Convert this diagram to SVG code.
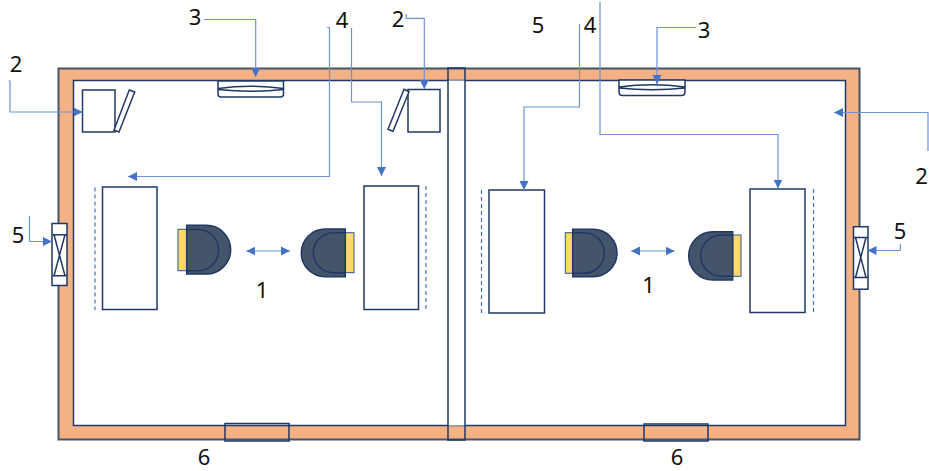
<svg xmlns="http://www.w3.org/2000/svg" width="929" height="471" viewBox="0 0 929 471">
<style>
.o{fill:none;stroke:#1F3864;stroke-width:1.5}
.w{fill:#fff;stroke:#1F3864;stroke-width:1.5}
.y{fill:#FFD966;stroke:#2F5597;stroke-width:1}
.d{fill:#44546A;stroke:#1F3864;stroke-width:1.5}
.h{fill:none;stroke:#4472C4;stroke-width:1.2;stroke-dasharray:4 3}
.c{fill:none;stroke:#6F92D4;stroke-width:1.2}
text{font-family:"Noto Sans","Open Sans","Liberation Sans",sans-serif;font-size:22px;fill:#111;text-anchor:middle}
</style>
<defs>
<marker id="a" markerUnits="userSpaceOnUse" markerWidth="10" markerHeight="10" refX="9" refY="5" orient="auto-start-reverse"><path d="M0 0.500L9 5L0 9.500Z" fill="#4472C4"/></marker>
</defs>
<g id="building">
<rect x="58.500" y="68.500" width="801" height="371" fill="#F4B183" stroke="#44546A" stroke-width="2"/>
<rect x="73.500" y="80.500" width="772" height="345" fill="#fff" stroke="#1F3864" stroke-width="1.500"/>
</g>
<g id="partition"><rect x="448" y="80.500" width="17" height="345" fill="#fff"/><rect x="448" y="68" width="17" height="372" class="o"/></g>
<g id="door-left"><rect x="225" y="423.500" width="64" height="17.500" class="o"/></g>
<g id="door-right"><rect x="644" y="424" width="64" height="17" class="o"/></g>
<g id="printer-left"><rect x="82.500" y="90" width="32.500" height="42" class="w"/><path d="M129.300 90L134.700 92L119 132L114 130Z" class="w"/></g>
<g id="printer-right"><rect x="408" y="89.500" width="32" height="42.500" class="w"/><path d="M404 89.300L409 91.700L393 131.300L388 129.300Z" class="w"/></g>
<g id="ac-left"><path d="M218 81H283.500V94Q283.500 97 280.500 97H221Q218 97 218 94Z" class="w"/><path d="M218 88.500Q250.500 84 283.500 88.500M218 89.500Q250.500 93 283.500 89.500" class="o"/></g>
<g id="ac-right"><path d="M619 80H685V92Q685 95.500 681.500 95.500H622.500Q619 95.500 619 92Z" class="w"/><path d="M619 87Q652 82.500 685 87M619 88Q652 91.500 685 88" class="o"/></g>
<g id="window-left"><rect x="52" y="223.500" width="15" height="62" class="w"/><path d="M52 234.700H67M52 275.700H67M54 234.700L65 275.700M65 234.700L54 275.700" class="o"/></g>
<g id="window-right"><rect x="853.500" y="226.700" width="14.500" height="62.500" class="w"/><path d="M853.500 237.500H868M853.500 277.500H868M855.500 237.500L866 277.500M866 237.500L855.500 277.500" class="o"/></g>
<g id="table-1"><rect x="102.500" y="187" width="54.500" height="122.500" class="w"/><path d="M95 187.500V310" class="h"/></g>
<g id="table-2"><rect x="364" y="186" width="54.500" height="123.500" class="w"/><path d="M426 186V309" class="h"/></g>
<g id="table-3"><rect x="489" y="190" width="55.500" height="123" class="w"/><path d="M481.500 190V313" class="h"/></g>
<g id="table-4"><rect x="750" y="189" width="55" height="123.500" class="w"/><path d="M813.500 189V312" class="h"/></g>
<g id="chair-1"><rect x="178" y="229.300" width="9" height="41.400" class="y"/><path d="M186.700 225.300H206.300A24.350 24.350 0 0 1 206.300 274H186.700Z" class="d"/><path d="M186.700 229.500H198A20.600 20.600 0 0 1 198 270.700H186.700" class="o"/></g>
<g id="chair-2"><rect x="345.300" y="232.700" width="8.700" height="40" class="y"/><path d="M345.300 229H325.150A23.850 23.850 0 0 0 325.150 276.700H345.300Z" class="d"/><path d="M345.300 232.700H333.300A20 20 0 0 0 333.300 272.700H345.300" class="o"/></g>
<g id="chair-3"><rect x="565.300" y="232.700" width="8" height="40.600" class="y"/><path d="M572.700 229.300H593.300A23.700 23.700 0 0 1 593.300 276.700H572.700Z" class="d"/><path d="M572.700 232.700H584A20.300 20.300 0 0 1 584 273.300H572.700" class="o"/></g>
<g id="chair-4"><rect x="732.700" y="235" width="8.300" height="41.300" class="y"/><path d="M732.700 231.700H712.850A24.150 24.150 0 0 0 712.850 280H732.700Z" class="d"/><path d="M732.700 235H721.350A20.650 20.650 0 0 0 721.350 276.300H732.700" class="o"/></g>
<g id="connectors">
<path class="c" marker-end="url(#a)" d="M8.500 81H10V112H82.700"/>
<path class="c" marker-end="url(#a)" d="M204 19.500H255.700V77"/>
<path class="c" marker-end="url(#a)" d="M327 27.500H329.500V176.500H128"/>
<path class="c" marker-end="url(#a)" d="M351.500 28V102H381.500V176"/>
<path class="c" marker-end="url(#a)" d="M406 14V18.300H424.300V89"/>
<path class="c" marker-end="url(#a)" d="M579.500 24V107H524V190"/>
<path class="c" marker-end="url(#a)" d="M600 2V134.500H778V188.500"/>
<path class="c" marker-end="url(#a)" d="M696 27.500H657V84"/>
<path class="c" marker-end="url(#a)" d="M928 151V112.500H834"/>
<path class="c" marker-end="url(#a)" d="M29.500 216V241.500H52"/>
<path class="c" marker-end="url(#a)" d="M900.300 244V250.500H867.500"/>
<path class="c" marker-start="url(#a)" marker-end="url(#a)" d="M246.300 251H290"/>
<path class="c" marker-start="url(#a)" marker-end="url(#a)" d="M631 251H674.700"/>
</g>
<g id="labels">
<text x="195" y="25">3</text>
<text x="16" y="72">2</text>
<text x="342" y="28">4</text>
<text x="398" y="26.500">2</text>
<text x="538" y="32.500">5</text>
<text x="590" y="32.500">4</text>
<text x="704" y="37.500">3</text>
<text x="921.500" y="183.500">2</text>
<text x="18" y="243">5</text>
<text x="900" y="239">5</text>
<text x="262" y="298">1</text>
<text x="648.500" y="293">1</text>
<text x="204" y="464.500">6</text>
<text x="677" y="464.500">6</text>
</g>
</svg>
